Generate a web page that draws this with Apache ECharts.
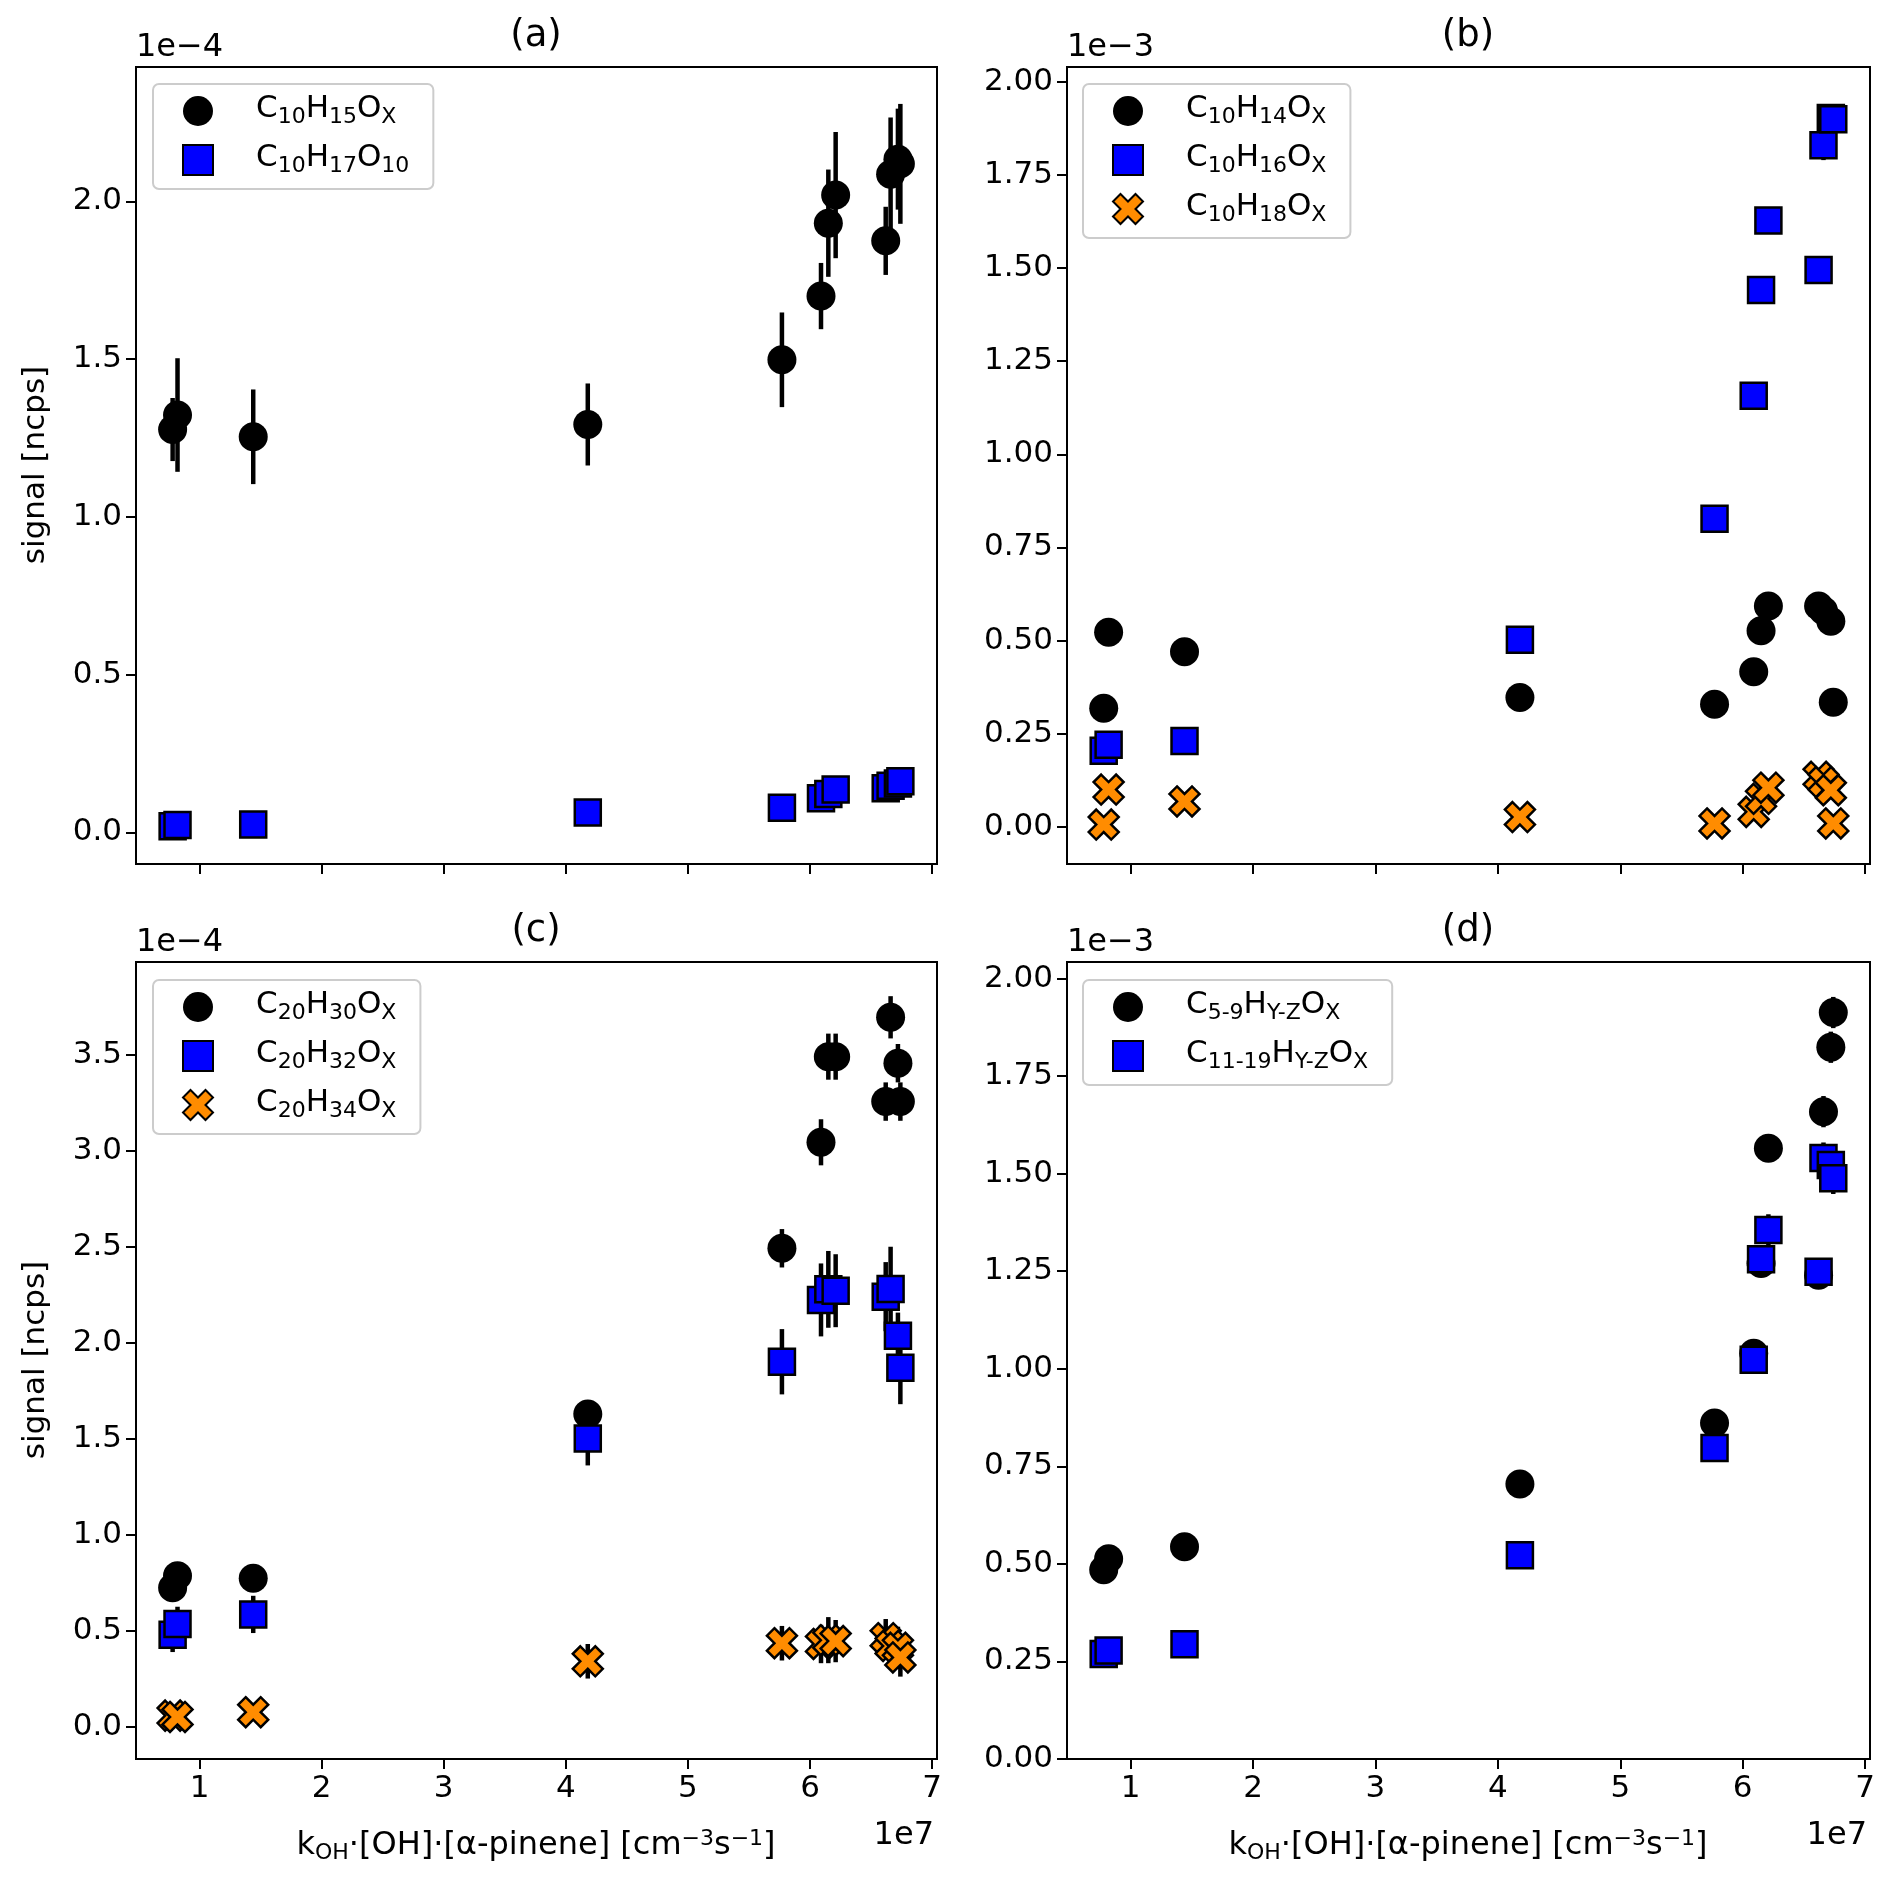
<!DOCTYPE html>
<html><head><meta charset="utf-8">
<script src="https://cdn.jsdelivr.net/npm/echarts@6/dist/echarts.min.js"></script>
<style>html,body{margin:0;padding:0;background:#fff}#c{width:1892px;height:1881px}</style>
</head><body><div id="c"></div>
<script>
// x values (units of 1e7 cm^-3 s^-1)
const X = [0.78, 0.82, 1.44, 4.18, 5.77, 6.09, 6.15, 6.21, 6.62, 6.66, 6.72, 6.74];
const xTicks = [1, 2, 3, 4, 5, 6, 7];

// panel (a), units 1e-4
const aC10H15 = [1.277, 1.323, 1.254, 1.293, 1.498, 1.70, 1.931, 2.02, 1.875, 2.086, 2.134, 2.119];
const aC10H15Err = [0.10, 0.18, 0.15, 0.13, 0.15, 0.105, 0.17, 0.20, 0.108, 0.18, 0.16, 0.19];
const aC10H17 = [0.020, 0.024, 0.025, 0.063, 0.078, 0.108, 0.122, 0.136, 0.140, 0.148, 0.155, 0.162];
const aC10H17Err = [0.004, 0.004, 0.004, 0.005, 0.005, 0.006, 0.006, 0.006, 0.006, 0.006, 0.007, 0.007];
const aTicks = [0, 0.5, 1.0, 1.5, 2.0];

// panel (b), units 1e-3
const bC10H14 = [0.318, 0.522, 0.470, 0.347, 0.329, 0.416, 0.526, 0.593, 0.593, 0.580, 0.552, 0.334];
const bC10H14Err = [0.008, 0.008, 0.008, 0.008, 0.008, 0.01, 0.01, 0.01, 0.01, 0.01, 0.01, 0.01];
const bC10H16 = [0.204, 0.220, 0.230, 0.502, 0.827, 1.157, 1.441, 1.628, 1.495, 1.830, 1.903, 1.900];
const bC10H16Err = [0.008, 0.008, 0.008, 0.01, 0.012, 0.015, 0.025, 0.015, 0.015, 0.04, 0.03, 0.02];
const bC10H18 = [0.006, 0.100, 0.068, 0.026, 0.009, 0.040, 0.075, 0.105, 0.134, 0.120, 0.098, 0.009];
const bC10H18Err = [0.004, 0.004, 0.004, 0.004, 0.004, 0.004, 0.004, 0.004, 0.004, 0.004, 0.004, 0.004];
const bTicks = [0, 0.25, 0.5, 0.75, 1.0, 1.25, 1.5, 1.75, 2.0];

// panel (c), units 1e-4
const cC20H30 = [0.723, 0.785, 0.773, 1.628, 2.491, 3.043, 3.489, 3.489, 3.255, 3.694, 3.455, 3.255];
const cC20H30Err = [0.03, 0.03, 0.03, 0.05, 0.10, 0.12, 0.12, 0.12, 0.10, 0.11, 0.10, 0.10];
const cC20H32 = [0.478, 0.534, 0.584, 1.500, 1.900, 2.222, 2.277, 2.270, 2.239, 2.279, 2.036, 1.869];
const cC20H32Err = [0.09, 0.09, 0.097, 0.14, 0.17, 0.19, 0.20, 0.19, 0.18, 0.22, 0.12, 0.19];
const cC20H34 = [0.057, 0.050, 0.075, 0.340, 0.434, 0.430, 0.450, 0.445, 0.460, 0.420, 0.410, 0.360];
const cC20H34Err = [0.02, 0.02, 0.02, 0.09, 0.09, 0.10, 0.12, 0.11, 0.10, 0.10, 0.11, 0.10];
const cTicks = [0, 0.5, 1.0, 1.5, 2.0, 2.5, 3.0, 3.5];

// panel (d), units 1e-3
const dC5_9 = [0.485, 0.513, 0.544, 0.705, 0.861, 1.040, 1.270, 1.565, 1.240, 1.659, 1.824, 1.913];
const dC5_9Err = [0.01, 0.01, 0.01, 0.01, 0.015, 0.02, 0.03, 0.03, 0.03, 0.04, 0.04, 0.04];
const dC11_19 = [0.269, 0.278, 0.294, 0.522, 0.797, 1.023, 1.281, 1.356, 1.249, 1.540, 1.522, 1.488];
const dC11_19Err = [0.01, 0.01, 0.01, 0.01, 0.015, 0.02, 0.03, 0.04, 0.03, 0.04, 0.04, 0.04];
const dTicks = [0, 0.25, 0.5, 0.75, 1.0, 1.25, 1.5, 1.75, 2.0];

const FONT = 'DejaVu Sans';
const FS = 31;
const FSS = 22;
const FT = 37;
const chart = echarts.init(document.getElementById('c'), null, {renderer: 'canvas'});

const grids = [
  {left: 136, top: 67, width: 801, height: 797},
  {left: 1067, top: 67, width: 803, height: 797},
  {left: 136, top: 962, width: 801, height: 797},
  {left: 1067, top: 962, width: 803, height: 797}
];
const yRanges = [[-0.10, 2.426], [-0.10, 2.04], [-0.169, 3.982], [0, 2.0425]];
const yTickSets = [aTicks, bTicks, cTicks, dTicks];
const yDigits = [1, 2, 1, 2];

const xAxes = grids.map((g, i) => ({
  type: 'value', gridIndex: i, min: 0.48, max: 7.04,
  axisLine: {show: true, onZero: false, lineStyle: {color: '#000', width: 2}},
  axisTick: {show: true, customValues: xTicks, length: 10, lineStyle: {color: '#000', width: 2}},
  axisLabel: {show: i >= 2, customValues: xTicks, margin: 14, color: '#000', fontSize: FS, fontFamily: FONT},
  splitLine: {show: false}
}));
const yAxes = grids.map((g, i) => ({
  type: 'value', gridIndex: i, min: yRanges[i][0], max: yRanges[i][1],
  axisLine: {show: true, onZero: false, lineStyle: {color: '#000', width: 2}},
  axisTick: {show: true, customValues: yTickSets[i], length: 10, lineStyle: {color: '#000', width: 2}},
  axisLabel: {show: true, customValues: yTickSets[i], margin: 14, color: '#000', fontSize: FS, fontFamily: FONT,
    formatter: v => v.toFixed(yDigits[i])},
  splitLine: {show: false}
}));

const XPATH = 'path://M1,0L2,1L3,0L4,1L3,2L4,3L3,4L2,3L1,4L0,3L1,2L0,1Z';
const markers = {
  circle: {symbol: 'circle', symbolSize: 29, itemStyle: {color: '#000', borderWidth: 0, opacity: 1}},
  square: {symbol: 'rect', symbolSize: 26, itemStyle: {color: '#0000ff', borderColor: '#000', borderWidth: 2.5, opacity: 1}},
  cross: {symbol: XPATH, symbolSize: 30, itemStyle: {color: '#ff8c00', borderColor: '#000', borderWidth: 2.5, opacity: 1}}
};

let zc = 2;
const series = [];
function add(gi, name, ys, es, kind) {
  series.push({
    type: 'custom', name: name + '_err', xAxisIndex: gi, yAxisIndex: gi, z: zc++, silent: true,
    data: X.map((x, i) => [x, ys[i], es[i]]),
    renderItem: (params, api) => {
      const x = api.value(0), y = api.value(1), e = api.value(2);
      const p1 = api.coord([x, y - e]), p2 = api.coord([x, y + e]);
      return {type: 'line', shape: {x1: p1[0], y1: p1[1], x2: p2[0], y2: p2[1]},
        style: {stroke: '#000', lineWidth: 4.5}};
    }
  });
  const m = markers[kind];
  series.push({
    type: 'scatter', name: name, xAxisIndex: gi, yAxisIndex: gi, z: zc++,
    symbol: m.symbol, symbolSize: m.symbolSize, itemStyle: m.itemStyle,
    emphasis: {disabled: true},
    data: X.map((x, i) => [x, ys[i]])
  });
}
add(0, 'C10H15OX', aC10H15, aC10H15Err, 'circle');
add(0, 'C10H17O10', aC10H17, aC10H17Err, 'square');
add(1, 'C10H14OX', bC10H14, bC10H14Err, 'circle');
add(1, 'C10H16OX', bC10H16, bC10H16Err, 'square');
add(1, 'C10H18OX', bC10H18, bC10H18Err, 'cross');
add(2, 'C20H30OX', cC20H30, cC20H30Err, 'circle');
add(2, 'C20H32OX', cC20H32, cC20H32Err, 'square');
add(2, 'C20H34OX', cC20H34, cC20H34Err, 'cross');
add(3, 'C5-9HY-ZOX', dC5_9, dC5_9Err, 'circle');
add(3, 'C11-19HY-ZOX', dC11_19, dC11_19Err, 'square');

const legendLabels = {
  'C10H15OX': '{n|C}{s|10}{n|H}{s|15}{n|O}{s|X}',
  'C10H17O10': '{n|C}{s|10}{n|H}{s|17}{n|O}{s|10}',
  'C10H14OX': '{n|C}{s|10}{n|H}{s|14}{n|O}{s|X}',
  'C10H16OX': '{n|C}{s|10}{n|H}{s|16}{n|O}{s|X}',
  'C10H18OX': '{n|C}{s|10}{n|H}{s|18}{n|O}{s|X}',
  'C20H30OX': '{n|C}{s|20}{n|H}{s|30}{n|O}{s|X}',
  'C20H32OX': '{n|C}{s|20}{n|H}{s|32}{n|O}{s|X}',
  'C20H34OX': '{n|C}{s|20}{n|H}{s|34}{n|O}{s|X}',
  'C5-9HY-ZOX': '{n|C}{s|5-9}{n|H}{s|Y-Z}{n|O}{s|X}',
  'C11-19HY-ZOX': '{n|C}{s|11-19}{n|H}{s|Y-Z}{n|O}{s|X}'
};
const richSub = {
  n: {fontSize: FS, fontFamily: FONT, color: '#000', lineHeight: 34, verticalAlign: 'bottom', padding: [0, 0, 4, 0]},
  s: {fontSize: FSS, fontFamily: FONT, color: '#000', lineHeight: 22, verticalAlign: 'bottom', padding: [0, 0, 0, 0]}
};
function legend(left, top, names) {
  return {
    orient: 'vertical', left: left, top: top, padding: [9, 24, 12, 29],
    itemWidth: 30, itemHeight: 30, itemGap: 14,
    borderColor: '#cccccc', borderWidth: 2, borderRadius: 6, backgroundColor: '#ffffff',
    selectedMode: false, data: names, formatter: n => legendLabels[n],
    textStyle: {padding: [0, 0, 0, 38], rich: richSub}
  };
}

const txt = (x, y, text, opts) => ({type: 'text', x: x, y: y, silent: true, z: 100,
  style: Object.assign({text: text, fontSize: FS, fontFamily: FONT, fill: '#000', align: 'center', verticalAlign: 'middle'}, opts || {})});
const xlabelRich = {
  n: {fontSize: 32, fontFamily: FONT, color: '#000', lineHeight: 36, verticalAlign: 'middle'},
  s: {fontSize: FSS, fontFamily: FONT, color: '#000', lineHeight: 22, verticalAlign: 'bottom'},
  u: {fontSize: FSS, fontFamily: FONT, color: '#000', lineHeight: 22, verticalAlign: 'top'}
};
const xlabel = '{n|k}{s|OH}{n|·[OH]·[α-pinene] [cm}{u|−3}{n|s}{u|−1}{n|]}';

const graphics = [
  txt(536, 36, '(a)', {fontSize: FT}), txt(1468, 36, '(b)', {fontSize: FT}),
  txt(536, 931, '(c)', {fontSize: FT}), txt(1468, 931, '(d)', {fontSize: FT}),
  txt(136, 48, '1e−4', {align: 'left', fontSize: 32}), txt(1067, 48, '1e−3', {align: 'left', fontSize: 32}),
  txt(136, 943, '1e−4', {align: 'left', fontSize: 32}), txt(1067, 943, '1e−3', {align: 'left', fontSize: 32}),
  txt(1870 - 3, 1836, '1e7', {align: 'right', fontSize: 32}), txt(937 - 3, 1836, '1e7', {align: 'right', fontSize: 32}),
  Object.assign(txt(36, 465, 'signal [ncps]'), {rotation: Math.PI / 2}),
  Object.assign(txt(36, 1360, 'signal [ncps]'), {rotation: Math.PI / 2}),
  txt(536, 1846, xlabel, {rich: xlabelRich}),
  txt(1468, 1846, xlabel, {rich: xlabelRich})
];

chart.setOption({
  animation: false,
  backgroundColor: '#ffffff',
  grid: grids.map(g => Object.assign({show: true, borderColor: '#000', borderWidth: 2, backgroundColor: 'transparent'}, g)),
  xAxis: xAxes,
  yAxis: yAxes,
  legend: [
    legend(153, 84, ['C10H15OX', 'C10H17O10']),
    legend(1083, 84, ['C10H14OX', 'C10H16OX', 'C10H18OX']),
    legend(153, 980, ['C20H30OX', 'C20H32OX', 'C20H34OX']),
    legend(1083, 980, ['C5-9HY-ZOX', 'C11-19HY-ZOX'])
  ],
  series: series,
  graphic: graphics
});
</script>
</body></html>
